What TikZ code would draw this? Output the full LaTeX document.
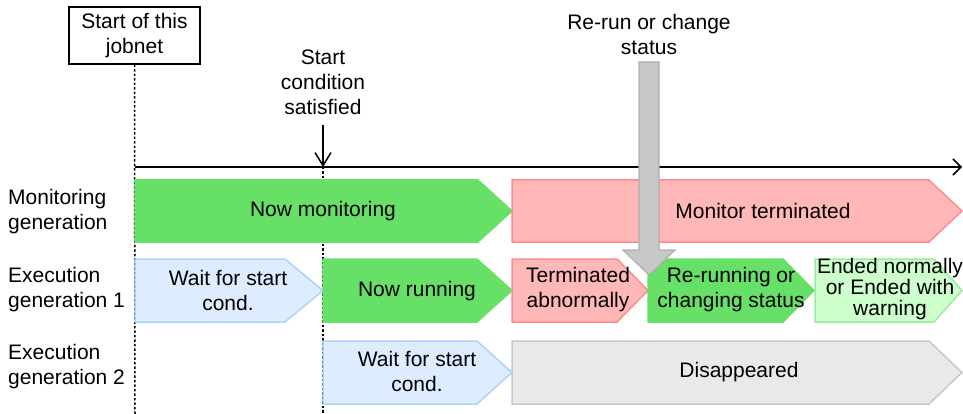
\documentclass[tikz,border=0pt]{standalone}
\usepackage{fontspec}
\setmainfont{Liberation Sans}
\usetikzlibrary{arrows.meta, positioning}

\definecolor{rungreen}{RGB}{102,224,102}
\definecolor{pinkfill}{RGB}{255,183,183}
\definecolor{pinkline}{RGB}{255,140,140}
\definecolor{bluefill}{RGB}{221,237,255}
\definecolor{blueline}{RGB}{170,210,255}
\definecolor{palefill}{RGB}{204,255,204}
\definecolor{paleline}{RGB}{153,238,153}
\definecolor{gonefill}{RGB}{233,233,233}
\definecolor{goneline}{RGB}{200,200,200}
\definecolor{pushfill}{RGB}{200,200,200}
\definecolor{pushline}{RGB}{175,175,175}

\tikzset{
  runbar/.style={fill=rungreen, draw=rungreen, line width=1.5pt},
  failbar/.style={fill=pinkfill, draw=pinkline, line width=1.5pt},
  waitbar/.style={fill=bluefill, draw=blueline, line width=1.5pt},
  donebar/.style={fill=palefill, draw=paleline, line width=1.5pt},
  gonebar/.style={fill=gonefill, draw=goneline, line width=1.5pt},
  txt/.style={align=center, inner sep=0pt, font=\fontsize{21}{25}\selectfont},
  rowlabel/.style={align=left, anchor=west, inner sep=0pt, font=\fontsize{21}{25}\selectfont},
  timeline/.style={line width=1.5pt, dash pattern=on 2.5pt off 2pt}
}

% one stage of a generation: x from, x to, top, bottom
\newcommand{\stagebar}[6][32]{%
  \draw[#2] (#3,#5) -- ({#4-#1},#5) -- (#4,{(#5+#6)/2}) -- ({#4-#1},#6) -- (#3,#6) -- cycle;}

\begin{document}
\begin{tikzpicture}[x=1pt, y=-1pt]
    \useasboundingbox (0,0) rectangle (963,414);

    % Start of the jobnet and time axis
    \node[txt, draw, line width=1.5pt, minimum width=131pt, minimum height=57pt] (jobnet) at (134.5,35.5) {Start of this\\jobnet};
    \coordinate (axisstart) at (135,167);
    \coordinate (axisend) at (962,167);
    \coordinate (jobnetend) at (135,414);
    \draw[timeline] (jobnet.south) -- (jobnetend);
    \draw[line width=1.8pt, -{Straight Barb[length=8pt, width=16pt, line width=1.5pt]}] (axisstart) -- (axisend);

    % Start condition
    \node[txt] (cond) at (323,82) {Start\\condition\\satisfied};
    \coordinate (condtop) at (323,125);
    \coordinate (condhit) at (323,167);
    \coordinate (condend) at (323,414);
    \draw[line width=1.5pt, -{Straight Barb[length=13pt, width=16pt, line width=1.5pt]}] (condtop) -- (condhit);
    \draw[timeline] (condhit) -- (condend);

    % Row labels
    \node[rowlabel] (monlabel) at (8,212) {Monitoring\\generation};
    \node[rowlabel] (exec1label) at (8,290) {Execution\\generation 1};
    \node[rowlabel] (exec2label) at (8,367) {Execution\\generation 2};

    % Monitoring generation
    \stagebar[34]{runbar}{135}{512}{180}{242}
    \stagebar[33]{failbar}{512}{962}{180}{242}
    \node[txt] (nowmon) at (323,211) {Now monitoring};
    \node[txt] (monterm) at (763,211) {Monitor terminated};

    % Execution generation 1
    \stagebar[38]{waitbar}{135}{323}{259}{322}
    \stagebar[35]{runbar}{323}{512}{259}{322}
    \stagebar[31]{failbar}{512}{648}{259}{322}
    \stagebar[31]{runbar}{648}{814}{259}{322}
    \stagebar[28]{donebar}{815}{962}{259}{322}
    \node[txt] (wait1) at (228,290) {Wait for start\\cond.};
    \node[txt] (running) at (417,291) {Now running};
    \node[txt] (termab) at (578,290) {Terminated\\abnormally};
    \node[txt] (rerunning) at (731,290) {Re-running or\\changing status};
    \node[txt, font=\fontsize{21}{21}\selectfont] (ended) at (890,289) {Ended normally\\or Ended with\\warning};

    % Execution generation 2
    \stagebar[35]{waitbar}{323}{512}{341}{404}
    \stagebar[33]{gonebar}{512}{962}{341}{404}
    \node[txt] (wait2) at (417,371) {Wait for start\\cond.};
    \node[txt] (gone) at (739,372) {Disappeared};

    % Re-run or change status
    \node[txt] (rerun) at (649,34) {Re-run or change\\status};
    \draw[fill=pushfill, draw=pushline, line width=1.2pt]
      (639,62) -- (659,62) -- (659,250) -- (675,250) -- (649,275) -- (623,250) -- (639,250) -- cycle;
\end{tikzpicture}
\end{document}
